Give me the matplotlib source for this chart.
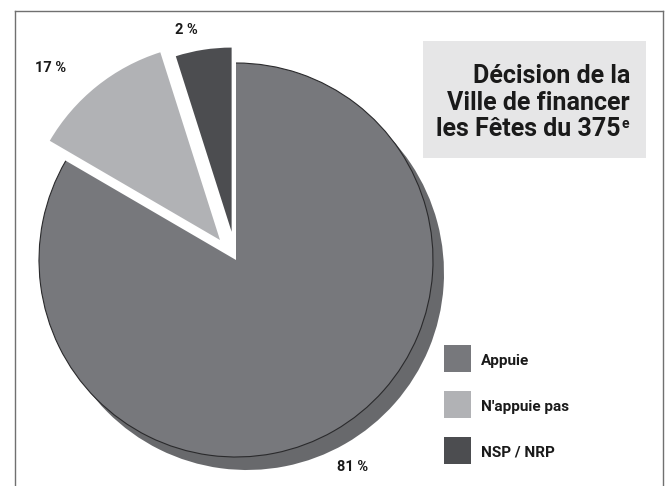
import matplotlib
matplotlib.use("Agg")
import numpy as np
import matplotlib.pyplot as plt
import matplotlib.patches as mpatches
from matplotlib.lines import Line2D

# --- data ---
categories = ["Appuie", "N'appuie pas", "NSP / NRP"]
# angular share of each wedge as it is drawn (the printed figures differ a little)
wedge_share = [83.4, 11.7, 4.9]
pct_labels = ["81 %", "17 %", "2 %"]
title_lines = ["Décision de la", "Ville de financer", "les Fêtes du 375"]
title_sup = "e"

# --- style ---
colors = ["#77787c", "#b1b2b5", "#4c4d50"]
shadow_color = "#68696c"
frame_color = "#707070"
box_color = "#e6e6e7"
text_color = "#1a1a1a"
explode = [0.0, 0.13, 0.145]
FONT = ["Roboto", "DejaVu Sans"]

W, H = 671, 486           # output size, pixels
R = 197.0                 # pie radius, pixels
CX, CY = 236.0, 260.0     # pie centre, pixels from top-left


def fx(x):
    return x / W


def fy(y):
    return 1 - y / H


fig = plt.figure(figsize=(W / 100, H / 100), dpi=100)
fig.patch.set_facecolor("white")
ax = fig.add_axes([0, 0, 1, 1])

wedges, _ = ax.pie(wedge_share, colors=colors, explode=explode, startangle=90,
                   counterclock=False, radius=1, center=(0, 0),
                   wedgeprops=dict(linewidth=0))
# the dark slice is drawn a bit shorter in the original
wedges[2].set_radius(0.935)

ax.set_xlim(-CX / R, (W - CX) / R)
ax.set_ylim(-(H - CY) / R, CY / R)
ax.set_aspect("auto")
ax.axis("off")

# 3D-ish rim under the main slice + thin outline on its arc
w0 = wedges[0]
sx, sy = 11 / R, -13 / R
ax.add_patch(mpatches.Wedge((w0.center[0] + sx, w0.center[1] + sy), w0.r,
                            w0.theta1, w0.theta2, facecolor=shadow_color,
                            linewidth=0, zorder=w0.get_zorder() - 0.1))
ax.add_patch(mpatches.Arc(w0.center, 2 * w0.r, 2 * w0.r, theta1=w0.theta1,
                          theta2=w0.theta2, color="#2a2a2c", linewidth=0.8,
                          zorder=w0.get_zorder() + 0.1))

# percentage labels
pct_pos = [(353, 467), (51, 68), (186, 30)]
for txt, (px, py) in zip(pct_labels, pct_pos):
    fig.text(fx(px), fy(py), txt, ha="center", va="center", fontsize=10.5,
             family=FONT, fontweight="bold", color=text_color)

# outer frame (open at the bottom)
fl, fr, ft = 15, 663, 11
for xs, ys in [((fl, fr), (ft, ft)), ((fl, fl), (ft, H)), ((fr, fr), (ft, H))]:
    fig.add_artist(Line2D([fx(x) for x in xs], [fy(y) for y in ys],
                          color=frame_color, linewidth=1.0))

# title box
bx0, by0, bx1, by1 = 423, 41, 646, 158
fig.add_artist(mpatches.Rectangle((fx(bx0), fy(by1)), (bx1 - bx0) / W,
                                  (by1 - by0) / H, transform=fig.transFigure,
                                  facecolor=box_color, linewidth=0))
baselines = [83, 110, 136]
title_right = 630
for i, (line, base) in enumerate(zip(title_lines, baselines)):
    right = title_right - 9 if i == len(title_lines) - 1 else title_right
    fig.text(fx(right), fy(base), line, ha="right", va="baseline",
             fontsize=18, family=FONT, fontweight="bold", color=text_color)
fig.text(fx(title_right - 8.5), fy(base - 8), title_sup, ha="left",
         va="baseline", fontsize=10, family=FONT, fontweight="bold",
         color=text_color)

# legend built from the wedges
sq, leg_x, leg_top, leg_step = 27, 444, 345, 46
for i, (w, name) in enumerate(zip(wedges, categories)):
    top = leg_top + i * leg_step
    fig.add_artist(mpatches.Rectangle((fx(leg_x), fy(top + sq)), sq / W, sq / H,
                                      transform=fig.transFigure,
                                      facecolor=w.get_facecolor(), linewidth=0))
    fig.text(fx(481), fy(top + sq / 2 + 6), name, ha="left", va="baseline",
             fontsize=11, family=FONT, fontweight="bold", color=text_color)

fig.savefig("out.png", dpi=100, facecolor="white")
